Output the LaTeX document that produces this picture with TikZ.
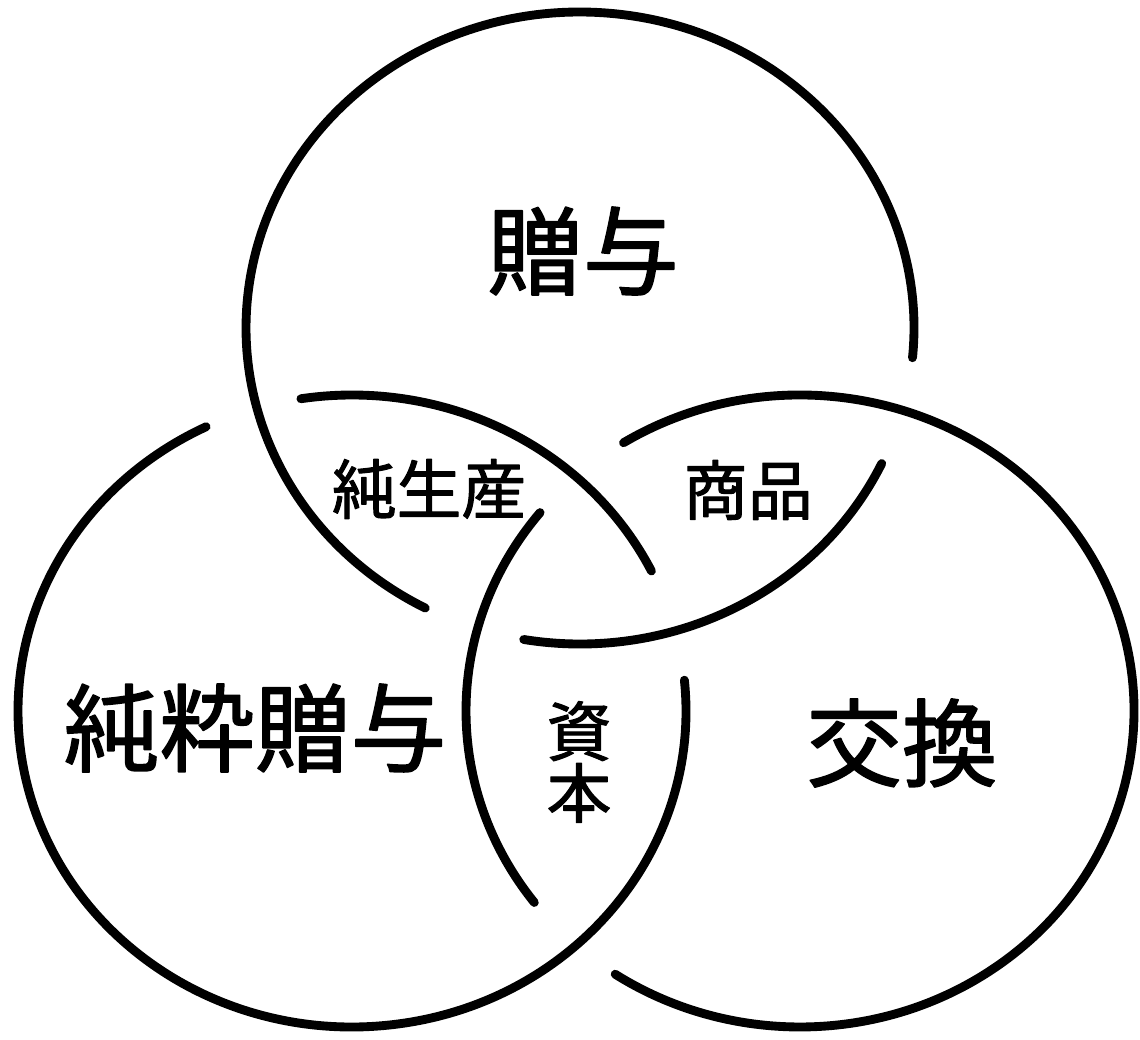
\documentclass[tikz,border=0pt]{standalone}
\usepackage{fontspec}
\usepackage{tikz}
\newfontfamily\jpfont[FakeBold=1.6]{Noto Sans CJK JP}

\begin{document}
\begin{tikzpicture}[line cap=round,line join=round,x=0.025cm,y=-0.025cm,
	ring/.style={line width=6.3pt},
	biglabel/.style={font=\jpfont\fontsize{68pt}{68pt}\selectfont,inner sep=0pt},
	smalllabel/.style={font=\jpfont\fontsize{46pt}{44pt}\selectfont,inner sep=0pt,align=center}]
	\useasboundingbox (0,0) rectangle (1140,1040);
	% top ring
	\draw [ring,shift={(580,328)}] (5.4:334 and 316) arc (5.4:-242.4:334 and 316);
	\draw [ring,shift={(580,328)}] (99.7:334 and 316) arc (99.7:25.4:334 and 316);
	% left ring
	\draw [ring,shift={(352,711)}] (-5.6:334 and 316) arc (-5.6:244.1:334 and 316);
	\draw [ring,shift={(352,711)}] (261.2:334 and 316) arc (261.2:333.7:334 and 316);
	% right ring
	\draw [ring,shift={(800,711)}] (-121.9:334 and 316) arc (-121.9:123.6:334 and 316);
	\draw [ring,shift={(800,711)}] (142.7:334 and 316) arc (142.7:218.9:334 and 316);
	% labels
	\node[biglabel] (zoyo) at (583,251) {贈与};
	\node[biglabel] (junsui) at (255,728) {純粋贈与};
	\node[biglabel] (kokan) at (902,743) {交換};
	\node[smalllabel] (seisan) at (429,489) {純生産};
	\node[smalllabel] (shohin) at (748,490) {商品};
	\node[smalllabel] (shihon) at (579,762) {資\\本};
\end{tikzpicture}
\end{document}
